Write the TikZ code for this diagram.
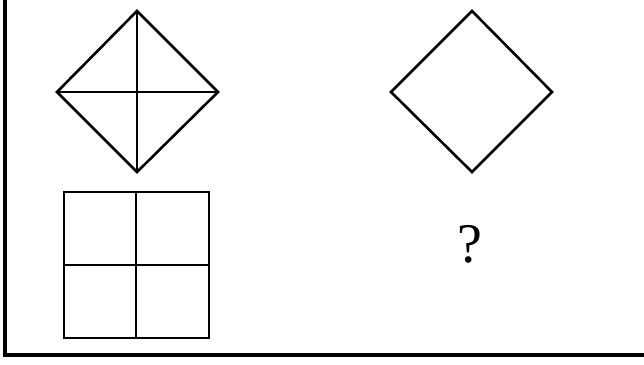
\documentclass[tikz,border=0pt]{standalone}
\usepackage{fontspec}
\setmainfont{Liberation Serif}
\begin{document}
\begin{tikzpicture}[x=1pt,y=-1pt,
  shape line/.style={line width=2.6pt,line join=miter},
  frame line/.style={line width=3.4pt}]
\useasboundingbox (0,0) rectangle (644,364);
% frame (left and bottom)
\coordinate (ftop) at (5,0);
\coordinate (fcorner) at (5,355);
\coordinate (fright) at (644,355);
\draw[frame line] (ftop) -- (fcorner) -- (fright);
% left diamond with cross
\coordinate (dt) at (137,11);
\coordinate (dr) at (218,92);
\coordinate (db) at (137,172);
\coordinate (dl) at (57,92);
\draw[shape line] (dt) -- (dr) -- (db) -- (dl) -- cycle;
\draw[shape line] (dt) -- (db);
\draw[shape line] (dl) -- (dr);
% right diamond
\coordinate (et) at (472,11);
\coordinate (er) at (552,92);
\coordinate (eb) at (472,172);
\coordinate (el) at (391,92);
\draw[shape line] (et) -- (er) -- (eb) -- (el) -- cycle;
% square with cross
\coordinate (s1) at (64,192);
\coordinate (s2) at (209,338);
\draw[shape line] (s1) rectangle (s2);
\coordinate (sm1) at (136,192);
\coordinate (sm2) at (136,338);
\coordinate (sm3) at (64,265);
\coordinate (sm4) at (209,265);
\draw[shape line] (sm1) -- (sm2);
\draw[shape line] (sm3) -- (sm4);
% question mark
\node[font=\fontsize{56}{60}\selectfont,inner sep=0pt] (q) at (470,244) {?};
\end{tikzpicture}
\end{document}
